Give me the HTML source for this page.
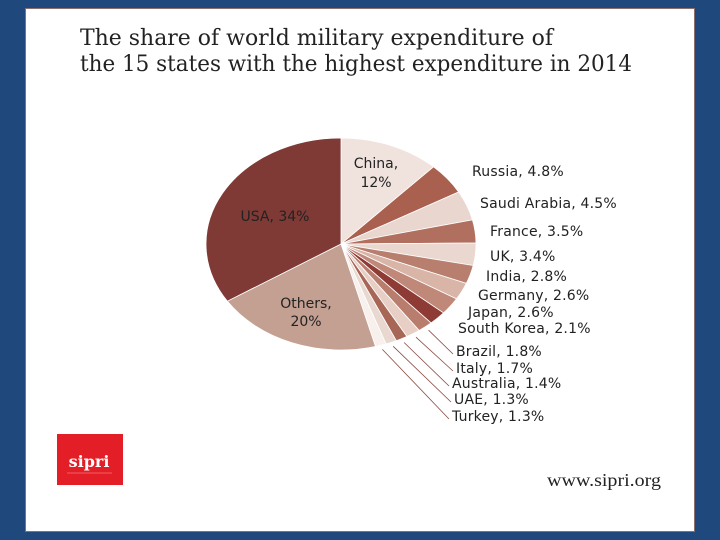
<!DOCTYPE html>
<html><head><meta charset="utf-8"><style>
body{margin:0;width:720px;height:540px;background:#1f497d;overflow:hidden;font-family:"DejaVu Sans",sans-serif}
#panel{position:absolute;left:25px;top:8px;width:668px;height:522px;background:#fff;border:1px solid #8a6f6a}
svg{position:absolute;left:0;top:0}
</style></head><body>
<div id="panel"></div>
<svg id="chart" width="720" height="540">
<text x="80" y="45" font-family="DejaVu Serif,serif" font-size="22" textLength="473" lengthAdjust="spacingAndGlyphs" fill="#222">The share of world military expenditure of</text>
<text x="80" y="71" font-family="DejaVu Serif,serif" font-size="22" textLength="552" lengthAdjust="spacingAndGlyphs" fill="#222">the 15 states with the highest expenditure in 2014</text>
<rect x="57" y="434" width="66" height="51" fill="#e31e26"/>
<text x="89" y="467" text-anchor="middle" font-family="DejaVu Serif,serif" font-weight="bold" font-size="16" fill="#fff">sipri</text>
<line x1="67" y1="473" x2="112" y2="473" stroke="#f7a0a0" stroke-width="0.6"/>
<text x="547" y="486" font-family="Liberation Serif,serif" font-size="18" textLength="114" lengthAdjust="spacingAndGlyphs" fill="#222">www.sipri.org</text>
<g id="slices"></g><g id="labels"></g>
</svg>
<script>
const categories=["China","Russia","Saudi Arabia","France","UK","India","Germany","Japan","South Korea","Brazil","Italy","Australia","UAE","Turkey","Others","USA"];
const values=[12,4.8,4.5,3.5,3.4,2.8,2.6,2.6,2.1,1.8,1.7,1.4,1.3,1.3,20,34];
const valueLabels=["12%","4.8%","4.5%","3.5%","3.4%","2.8%","2.6%","2.6%","2.1%","1.8%","1.7%","1.4%","1.3%","1.3%","20%","34%"];
const colors=["#f0e3de","#a9604f","#e8d6cf","#b06f5f","#ead8d0","#b87e6e","#d9b5a8","#c08878","#8e3a35","#b97d6e","#e7cfc6","#a86656","#e8d8d0","#f7f0ec","#c4a092","#7f3a36"];
const cx=341,cy=244,rx=135,ry=106;
const NS="http://www.w3.org/2000/svg";
const total=values.reduce((a,b)=>a+b,0);
function pt(a,k){return [cx+rx*k*Math.sin(a),cy-ry*k*Math.cos(a)];}
const gS=document.getElementById('slices'),gL=document.getElementById('labels');
const outPos={1:[472,176],2:[480,208],3:[490,236],4:[490,261],5:[486,281],6:[478,300],7:[468,317],8:[458,333],9:[456,356],10:[456,373],11:[452,388],12:[454,404],13:[452,421]};
let acc=0;
values.forEach((v,i)=>{
  const a0=acc/total*2*Math.PI;acc+=v;const a1=acc/total*2*Math.PI;
  const p0=pt(a0,1),p1=pt(a1,1);const large=(a1-a0)>Math.PI?1:0;
  const p=document.createElementNS(NS,'path');
  p.setAttribute('d',`M${cx},${cy}L${p0[0]},${p0[1]}A${rx},${ry} 0 ${large} 1 ${p1[0]},${p1[1]}Z`);
  p.setAttribute('fill',colors[i]);p.setAttribute('stroke','#fff');p.setAttribute('stroke-width','0.8');
  
  
  gS.appendChild(p);
  const am=(a0+a1)/2;
  if(outPos[i]){
    const [tx,ty]=outPos[i];
    if(i>=9){
      const e=pt(am,1.04);
      const l=document.createElementNS(NS,'line');
      l.setAttribute('x1',e[0]);l.setAttribute('y1',e[1]);l.setAttribute('x2',tx-3);l.setAttribute('y2',ty-2);
      l.setAttribute('stroke','#8a4a42');l.setAttribute('stroke-width','0.8');
      
      
      gL.appendChild(l);
    }
    const t=document.createElementNS(NS,'text');
    t.setAttribute('x',tx);t.setAttribute('y',ty);t.setAttribute('font-size','14');t.setAttribute('letter-spacing','0.2');t.setAttribute('fill','#222');
    t.textContent=categories[i]+', '+valueLabels[i];
    
    
    gL.appendChild(t);
  }
});
const inside=[[0,376,168,376,187,true],[15,275,221,0,0,false],[14,306,308,306,326,true]];
inside.forEach(([i,x1,y1,x2,y2,two])=>{
  const mk=(x,y,s)=>{const t=document.createElementNS(NS,'text');t.setAttribute('x',x);t.setAttribute('y',y);
    t.setAttribute('text-anchor','middle');t.setAttribute('font-size','14');t.setAttribute('fill','#222');t.textContent=s;
    
    
    gL.appendChild(t);};
  if(two){mk(x1,y1,categories[i]+',');mk(x2,y2,valueLabels[i]);}else mk(x1,y1,categories[i]+', '+valueLabels[i]);
});
</script>
</body></html>
